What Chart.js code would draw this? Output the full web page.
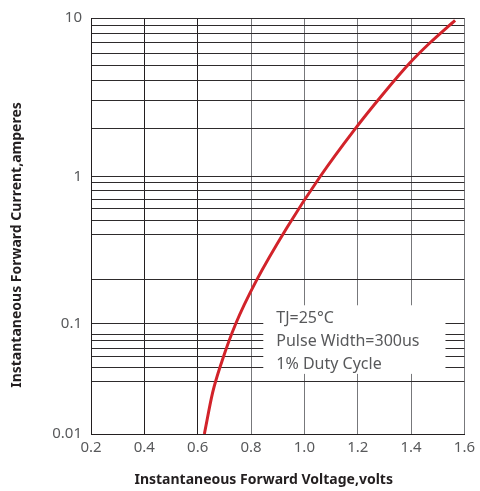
<!DOCTYPE html>
<html lang="en">

<head>
    <meta charset="UTF-8">
    <title>Forward Characteristics</title>
    <style>
        html, body { margin: 0; padding: 0; background: #fff; }
        .wrap { position: relative; width: 480px; height: 491px; }
    </style>
</head>

<body>
    <div class="wrap">
        <canvas id="myChart"></canvas>
    </div>
    <script src="https://cdn.jsdelivr.net/npm/chart.js@4.4.1/dist/chart.umd.min.js"></script>
    <script>
        // forward curve
        let voltage = [0.625, 0.656, 0.691, 0.743, 0.819, 0.935, 1.06, 1.186, 1.292, 1.395, 1.47, 1.565];
        let current = [0.01, 0.0237, 0.0456, 0.1, 0.194, 0.449, 1.0, 1.95, 3.26, 5.19, 6.95, 9.67];

        let xTicks = [0.2, 0.4, 0.6, 0.8, 1.0, 1.2, 1.4, 1.6];
        let yGrid = [0.01, 0.03, 0.04, 0.05, 0.06, 0.07, 0.08,
            0.1, 0.2, 0.4, 0.5, 0.6, 0.7, 0.8, 0.9,
            1, 2, 3, 4, 5, 6, 7, 8, 9, 10];
        let yLabels = [0.01, 0.1, 1, 10];

        let noteLines = ['TJ=25°C', 'Pulse Width=300us', '1% Duty Cycle'];
        let xTitle = 'Instantaneous Forward Voltage,volts';
        let yTitle = 'Instantaneous Forward Current,amperes';

        // log axis where every decade gets its own share of the height (like the printed sheet)
        class DecadeLogScale extends Chart.LogarithmicScale {
            static id = 'decadeLog';
            static defaults = Chart.LogarithmicScale.defaults;

            getPixelForValue(value) {
                if (value === null || value === undefined || isNaN(value)) return NaN;
                let stops = this.options.decadeStops;
                let t = Math.log10(value) - Math.log10(this.min);
                let k = Math.min(Math.max(Math.floor(t), 0), stops.length - 2);
                let f = stops[k] + (t - k) * (stops[k + 1] - stops[k]);
                return this.getPixelForDecimal(f);
            }

            getValueForPixel(pixel) {
                let stops = this.options.decadeStops;
                let f = this.getDecimalForPixel(pixel);
                let k = 0;
                while (k < stops.length - 2 && f > stops[k + 1]) k++;
                let t = k + (f - stops[k]) / (stops[k + 1] - stops[k]);
                return this.min * Math.pow(10, t);
            }
        }
        Chart.register(DecadeLogScale);

        let notePlugin = {
            id: 'note',
            afterDatasetsDraw(chart, args, opts) {
                let { ctx, scales: { x, y } } = chart;
                let left = x.getPixelForValue(opts.xMin);
                let right = x.getPixelForValue(opts.xMax);
                let top = y.getPixelForValue(opts.yMax);
                let bottom = y.getPixelForValue(opts.yMin);
                ctx.save();
                ctx.fillStyle = '#fff';
                ctx.fillRect(left, top, right - left, bottom - top);
                ctx.fillStyle = '#58595b';
                ctx.font = '16px "Noto Sans", sans-serif';
                ctx.textBaseline = 'alphabetic';
                noteLines.forEach((t, i) => ctx.fillText(t, left + 13, top + 18 + i * 23));
                ctx.restore();
            }
        };

        let titlePlugin = {
            id: 'axisTitles',
            afterDraw(chart) {
                let ctx = chart.ctx;
                let area = chart.chartArea;
                ctx.save();
                ctx.fillStyle = '#231f20';
                ctx.font = 'bold 14px "Noto Sans", sans-serif';
                ctx.textAlign = 'center';
                ctx.textBaseline = 'middle';
                ctx.fillText(xTitle, (area.left + area.right) / 2 - 14, area.bottom + 46);
                ctx.translate(area.left - 74, (area.top + area.bottom) / 2 + 19);
                ctx.rotate(-Math.PI / 2);
                ctx.fillText(yTitle, 0, 0);
                ctx.restore();
            }
        };

        Chart.defaults.font.family = '"Noto Sans", sans-serif';
        let ctx = document.getElementById('myChart').getContext('2d');

        let chart = new Chart(ctx, {
            type: 'line',
            data: {
                datasets: [{
                    data: voltage.map((v, i) => ({ x: v, y: current[i] })),
                    borderColor: '#d2232a',
                    borderWidth: 3,
                    pointRadius: 0,
                    cubicInterpolationMode: 'monotone',
                    fill: false
                }]
            },
            options: {
                responsive: true,
                maintainAspectRatio: false,
                animation: false,
                layout: { padding: { top: 16, right: 13, left: 0, bottom: 0 } },
                plugins: {
                    legend: { display: false },
                    tooltip: { enabled: false },
                    note: { xMin: 0.846, xMax: 1.529, yMin: 0.035, yMax: 0.133 }
                },
                scales: {
                    x: {
                        type: 'linear',
                        min: 0.2,
                        max: 1.6,
                        afterBuildTicks: s => { s.ticks = xTicks.map(v => ({ value: v })); },
                        afterFit: s => { s.height = 57; },
                        ticks: {
                            autoSkip: false,
                            maxRotation: 0,
                            padding: 5,
                            color: '#58595b',
                            font: { size: 15 },
                            callback: v => v.toFixed(1)
                        },
                        grid: {
                            drawTicks: false,
                            color: c => (c.tick && c.tick.value > 0.7) ? '#77787b' : '#231f20'
                        },
                        border: { color: '#231f20' }
                    },
                    y: {
                        type: 'decadeLog',
                        min: 0.01,
                        max: 10,
                        decadeStops: [0, 0.2656, 0.6196, 1],
                        afterBuildTicks: s => { s.ticks = yGrid.map(v => ({ value: v })); },
                        afterFit: s => { s.width = 91; },
                        ticks: {
                            autoSkip: false,
                            padding: 9,
                            color: '#58595b',
                            font: { size: 15 },
                            callback: v => yLabels.includes(v) ? String(v) : ''
                        },
                        grid: { drawTicks: false, color: '#2e2b2c' },
                        border: { color: '#231f20' }
                    }
                }
            },
            plugins: [notePlugin, titlePlugin]
        });
    </script>
</body>

</html>
